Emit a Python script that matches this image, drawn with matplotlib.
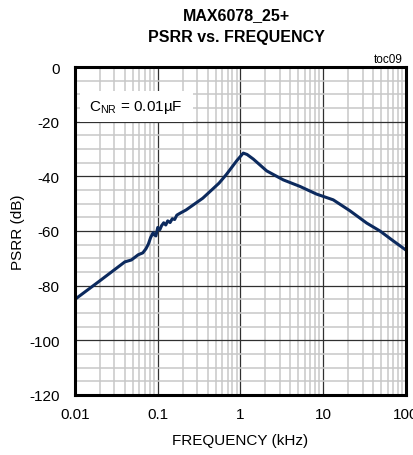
import matplotlib
matplotlib.use('Agg')
import matplotlib.pyplot as plt
from matplotlib.patches import Rectangle
from matplotlib.ticker import LogLocator, FixedLocator, NullFormatter

plt.rcParams['font.family'] = ['Liberation Sans', 'DejaVu Sans']
plt.rcParams['mathtext.fontset'] = 'custom'
plt.rcParams['mathtext.rm'] = 'Liberation Sans'
plt.rcParams['axes.unicode_minus'] = False

# PSRR curve
freq_khz = [0.01, 0.02, 0.04, 0.048, 0.058, 0.066, 0.072, 0.077, 0.082, 0.088,
            0.092, 0.095, 0.1, 0.106, 0.111, 0.118, 0.125, 0.132, 0.141, 0.15,
            0.16, 0.17, 0.186, 0.22, 0.27, 0.35, 0.43, 0.55, 0.68, 0.9,
            1.08, 1.2, 1.43, 2.07, 3.29, 5.24, 8.3, 13.2, 21, 33.5,
            48.5, 70, 100]
psrr_db = [-85.0, -78.2, -71.3, -70.6, -68.7, -68.0, -66.5, -64.8, -62.4, -60.6,
           -61.5, -61.8, -58.7, -59.5, -58.1, -57.0, -57.8, -56.3, -56.9, -55.5,
           -55.8, -54.2, -53.5, -52.3, -50.4, -48.0, -45.5, -42.5, -39.2, -34.3,
           -31.5, -32.0, -33.7, -38.0, -41.3, -43.7, -46.5, -48.6, -52.6, -57.1,
           -60.0, -63.6, -67.0]

x_ticks = [0.01, 0.1, 1, 10, 100]
x_ticklabels = ['0.01', '0.1', '1', '10', '100']
y_ticks = [0, -20, -40, -60, -80, -100, -120]

fig = plt.figure(figsize=(4.14, 4.56), dpi=100)
ax = fig.add_axes([75 / 414, 1 - 396 / 456, 331 / 414, 328 / 456])

ax.set_xscale('log')
ax.set_xlim(0.01, 100)
ax.set_ylim(-120, 0)

ax.set_xticks(x_ticks)
ax.set_xticklabels(x_ticklabels)
ax.xaxis.set_minor_locator(LogLocator(base=10, subs=range(2, 10)))
ax.xaxis.set_minor_formatter(NullFormatter())
ax.set_yticks(y_ticks)
ax.yaxis.set_minor_locator(FixedLocator(range(-115, 0, 5)))

ax.grid(which='minor', color='#c8c8c8', lw=1.1)
ax.grid(which='major', color='#303030', lw=0.9)
ax.set_axisbelow(True)
ax.tick_params(which='both', length=0, labelsize=11)
ax.tick_params(axis='x', pad=9)
ax.tick_params(axis='y', pad=11)
for s in ax.spines.values():
    s.set_linewidth(2.2)
    s.set_zorder(5)

ax.plot(freq_khz, psrr_db, color='#0c2a5e', lw=2.2, zorder=4)

ax.set_xlabel('FREQUENCY (kHz)', fontsize=11, labelpad=8)
ax.set_ylabel('PSRR (dB)', fontsize=11, labelpad=3)

# white label box over the grid
ax.add_patch(Rectangle((0.015, 0.832), 0.341, 0.095, transform=ax.transAxes,
                       facecolor='white', edgecolor='none', zorder=3))
ax.text(0.055, -14.6, r'C$_{\mathrm{NR}}$ = 0.01µF', fontsize=11, ha='center', va='center',
        zorder=6)

fig.text(403 / 414, 1 - 60 / 456, 'toc09', fontsize=8.5, ha='right', va='center')
fig.text(236 / 414, 1 - 20 / 456, 'MAX6078_25+', fontsize=11.5, fontweight='bold',
         ha='center', va='baseline')
fig.text(236 / 414, 1 - 42 / 456, 'PSRR vs. FREQUENCY', fontsize=11.5, fontweight='bold',
         ha='center', va='baseline')

fig.savefig('out.png', dpi=100)
